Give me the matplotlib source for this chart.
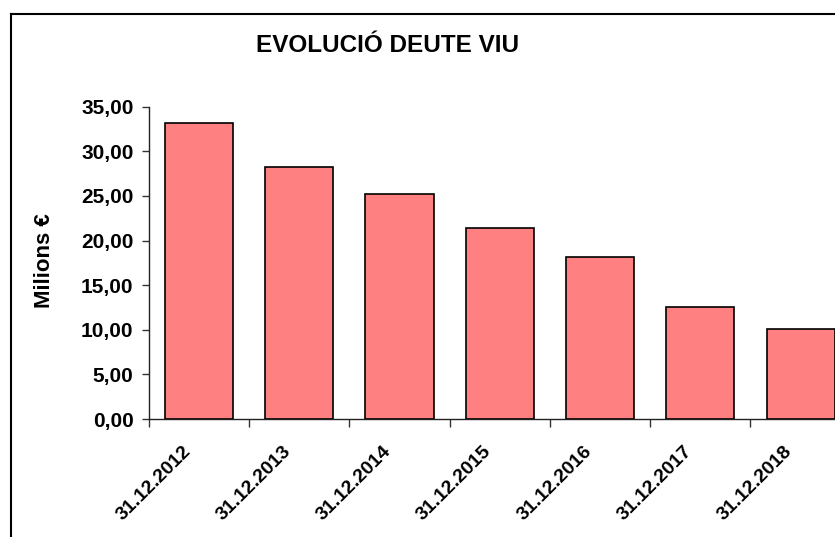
import matplotlib
matplotlib.use("Agg")
import matplotlib.pyplot as plt
import matplotlib.transforms as mtransforms
from matplotlib.lines import Line2D
from matplotlib.ticker import FuncFormatter, FixedLocator

# chart data
dates = ["31.12.2012", "31.12.2013", "31.12.2014", "31.12.2015",
         "31.12.2016", "31.12.2017", "31.12.2018"]
debt = [33.20, 28.20, 25.20, 21.45, 18.15, 12.60, 10.10]
y_ticks = [0, 5, 10, 15, 20, 25, 30, 35]

plt.rcParams["font.family"] = ["Liberation Sans", "DejaVu Sans"]
plt.rcParams["font.weight"] = "bold"

W, H = 835, 537
fig = plt.figure(figsize=(W / 100, H / 100), dpi=100)
fig.patch.set_facecolor("white")

# axes extends past the right edge like the original (cropped)
left, right, bottom, top = 148.7, 850.8, 419.0, 106.7
ax = fig.add_axes([left / W, 1 - bottom / H, (right - left) / W, (bottom - top) / H])

x = list(range(len(dates)))
ax.bar(x, debt, width=0.68, color="#FF8080", edgecolor="black", linewidth=1.2, zorder=3)

ax.set_xlim(-0.5, len(dates) - 0.5)
ax.set_ylim(0, 35)
ax.set_yticks(y_ticks)
ax.yaxis.set_major_formatter(FuncFormatter(lambda v, p: f"{v:.2f}".replace(".", ",")))

# tick marks at the category boundaries, labels drawn as rotated text
ax.set_xticks([])
ax.xaxis.set_minor_locator(FixedLocator([i - 0.5 for i in range(len(dates) + 1)]))
ax.tick_params(axis="x", which="minor", length=6, width=1, color="#333333", direction="out")
ax.tick_params(axis="y", length=5, width=1, color="#333333", labelsize=15, pad=6)
for lab in ax.get_yticklabels():
    lab.set_fontweight("bold")

offset = mtransforms.ScaledTranslation(-11 / 100, -30 / 100, fig.dpi_scale_trans)
for i, lab in zip(x, dates):
    ax.text(i, 0, lab, transform=ax.get_xaxis_transform() + offset,
            rotation=45, ha="right", va="center", rotation_mode="anchor",
            fontsize=14, fontweight="bold", clip_on=False)

for side in ["top", "right"]:
    ax.spines[side].set_visible(False)
for side in ["left", "bottom"]:
    ax.spines[side].set_color("#222222")
    ax.spines[side].set_linewidth(1.0)

fig.text(44 / W, 1 - 260.5 / H, "Milions €", rotation=90, ha="center", va="center",
         fontsize=16, fontweight="bold")

fig.text(387.5 / W, 1 - 45 / H, "EVOLUCIÓ DEUTE VIU", ha="center", va="center",
         fontsize=17.5, fontweight="bold")

# outer chart border (only left and top visible in the crop)
bx, by = 10.5 / W, 1 - 13.5 / H
fig.add_artist(Line2D([bx, bx], [0, by], transform=fig.transFigure, color="black", lw=1.5))
fig.add_artist(Line2D([bx, 1], [by, by], transform=fig.transFigure, color="black", lw=1.5))

fig.savefig("out.png", dpi=100)
